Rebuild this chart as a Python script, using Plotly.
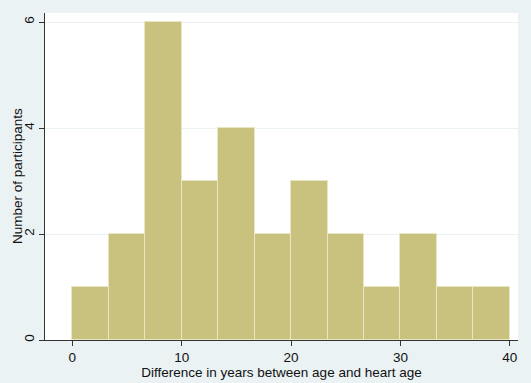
import plotly.graph_objects as go

# Histogram data: counts per bin, bins span 0..40 in 12 equal bins
counts = [1, 2, 6, 3, 4, 2, 3, 2, 1, 2, 1, 1]
bin_start = 0
bin_end = 40
x_ticks = [0, 10, 20, 30, 40]
y_ticks = [0, 2, 4, 6]
x_title = "Difference in years between age and heart age"
y_title = "Number of participants"

n = len(counts)
width = (bin_end - bin_start) / n
centers = [bin_start + width * (i + 0.5) for i in range(n)]

fig = go.Figure()
fig.add_trace(go.Bar(
    x=centers, y=counts, width=[width] * n,
    marker=dict(color="#C9C27F", line=dict(color="#E9E6C4", width=1)),
    hoverinfo="x+y",
))

font = "Liberation Sans, Arial, sans-serif"
fig.update_layout(
    width=531, height=383,
    margin=dict(l=45, r=13, t=13, b=43),
    paper_bgcolor="#EAF2F3",
    plot_bgcolor="#FFFFFF",
    showlegend=False,
    bargap=0,
    font=dict(family=font, size=13.5, color="#111111"),
    xaxis=dict(
        automargin=False,
        range=[-2.5, 40.75],
        tickvals=x_ticks,
        ticks="outside", ticklen=5, tickcolor="#333333", tickwidth=1,
        showline=True, linecolor="#333333", linewidth=1,
        showgrid=False, zeroline=False,
        title=dict(text=x_title, font=dict(size=13.5), standoff=0),
        tickfont=dict(size=13.5),
    ),
    yaxis=dict(
        automargin=False,
        range=[0, 6.17],
        tickvals=y_ticks,
        tickangle=-90,
        ticks="outside", ticklen=5, tickcolor="#333333", tickwidth=1,
        showline=True, linecolor="#333333", linewidth=1,
        showgrid=True, gridcolor="#EAF2F3", gridwidth=1,
        zeroline=False,
        tickfont=dict(size=13.5),
    ),
    annotations=[dict(
        text=y_title, textangle=-90,
        xref="paper", yref="paper", x=-0.058, y=0.5,
        xanchor="center", yanchor="middle", showarrow=False,
        font=dict(size=13.5, family=font, color="#111111"),
    )],
)

fig.write_html(
    "out.html",
    config={"displayModeBar": False},
    post_script="document.body.style.margin='0';document.body.style.background='#EAF2F3';document.body.style.overflow='hidden';",
)
